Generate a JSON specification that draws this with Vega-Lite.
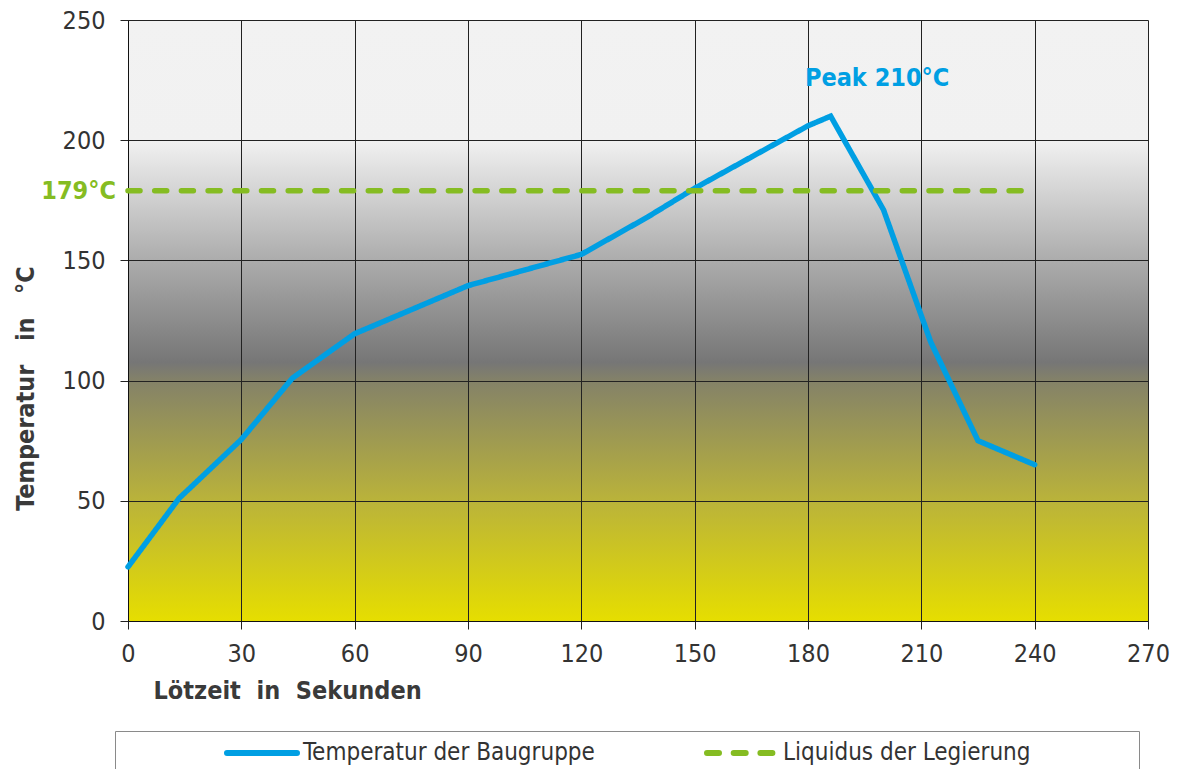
{
  "$schema": "https://vega.github.io/schema/vega-lite/v6.json",
  "autosize": {"type": "none"},
  "width": 1020,
  "height": 601,
  "padding": {"left": 128, "top": 20, "right": 29, "bottom": 148},
  "background": "#ffffff",
  "config": {
    "font": "DejaVu Sans Condensed, Roboto, sans-serif",
    "view": {
      "stroke": null,
      "fill": {
        "gradient": "linear", "x1": 0, "y1": 0, "x2": 0, "y2": 1,
        "stops": [
          {"offset": 0, "color": "#f2f2f2"},
          {"offset": 0.2, "color": "#f1f1f1"},
          {"offset": 0.4, "color": "#acacac"},
          {"offset": 0.57, "color": "#767676"},
          {"offset": 0.6, "color": "#848268"},
          {"offset": 0.8, "color": "#bab33a"},
          {"offset": 1, "color": "#e6de00"}
        ]
      }
    },
    "axis": {
      "labelFont": "DejaVu Sans Condensed, Roboto, sans-serif",
      "labelFontSize": 25,
      "labelColor": "#333333",
      "tickColor": "#222222",
      "tickSize": 8,
      "tickWidth": 1,
      "domainColor": "#111111",
      "domainWidth": 1,
      "gridColor": "#222222",
      "gridWidth": 1,
      "gridOpacity": 1,
      "titleFont": "DejaVu Sans Condensed, Roboto, sans-serif",
      "titleFontWeight": "bold",
      "titleFontSize": 25,
      "titleColor": "#3a3a3a"
    }
  },
  "datasets": {
    "lines": [
      {"series": "Temperatur der Baugruppe", "t": 0, "temp": 22.5},
      {"series": "Temperatur der Baugruppe", "t": 13.5, "temp": 51},
      {"series": "Temperatur der Baugruppe", "t": 30, "temp": 75.5},
      {"series": "Temperatur der Baugruppe", "t": 43.5, "temp": 101},
      {"series": "Temperatur der Baugruppe", "t": 60, "temp": 119.5},
      {"series": "Temperatur der Baugruppe", "t": 75, "temp": 129.5},
      {"series": "Temperatur der Baugruppe", "t": 90, "temp": 139.5},
      {"series": "Temperatur der Baugruppe", "t": 105, "temp": 146},
      {"series": "Temperatur der Baugruppe", "t": 120, "temp": 152.5},
      {"series": "Temperatur der Baugruppe", "t": 137.5, "temp": 168},
      {"series": "Temperatur der Baugruppe", "t": 150, "temp": 180},
      {"series": "Temperatur der Baugruppe", "t": 165, "temp": 193},
      {"series": "Temperatur der Baugruppe", "t": 180, "temp": 206},
      {"series": "Temperatur der Baugruppe", "t": 186, "temp": 210},
      {"series": "Temperatur der Baugruppe", "t": 200, "temp": 171},
      {"series": "Temperatur der Baugruppe", "t": 212.5, "temp": 116},
      {"series": "Temperatur der Baugruppe", "t": 225, "temp": 75},
      {"series": "Temperatur der Baugruppe", "t": 240, "temp": 65},
      {"series": "Liquidus der Legierung", "t": 0, "temp": 179},
      {"series": "Liquidus der Legierung", "t": 238, "temp": 179}
    ],
    "labels": [
      {"label": "179°C", "t": 0, "temp": 179, "kind": "liquidus"},
      {"label": "Peak 210°C", "t": 198.3, "temp": 226, "kind": "peak"}
    ]
  },
  "layer": [
    {
      "data": {"name": "lines"},
      "mark": {"type": "line", "strokeWidth": 5.5, "strokeCap": "round", "strokeJoin": "miter"},
      "encoding": {
        "x": {
          "field": "t", "type": "quantitative",
          "scale": {"domain": [0, 270], "nice": false},
          "axis": {
            "values": [0, 30, 60, 90, 120, 150, 180, 210, 240, 270],
            "title": "Lötzeit\u00a0\u00a0in\u00a0\u00a0Sekunden",
            "labelPadding": 12,
            "labelFlush": false,
            "titleAnchor": "start",
            "titleAlign": "left",
            "titleX": 25,
            "titleY": 69,
            "titleBaseline": "middle"
          }
        },
        "y": {
          "field": "temp", "type": "quantitative",
          "scale": {"domain": [0, 250], "nice": false},
          "axis": {
            "values": [0, 50, 100, 150, 200, 250],
            "title": "Temperatur\u00a0\u00a0\u00a0in\u00a0\u00a0\u00a0°C",
            "labelPadding": 15,
            "labelFlush": false,
            "titleX": -103,
            "titleY": 368,
            "titleAlign": "center",
            "titleBaseline": "middle",
            "titleAngle": -90
          }
        },
        "detail": {"field": "series"},
        "color": {
          "field": "series", "type": "nominal",
          "scale": {
            "domain": ["Temperatur der Baugruppe", "Liquidus der Legierung"],
            "range": ["#009fe3", "#85bc22"]
          },
          "legend": {
            "orient": "none",
            "legendX": -13,
            "legendY": 711,
            "direction": "horizontal",
            "title": "\u00a0",
            "titleOrient": "left",
            "titlePadding": 104,
            "strokeColor": "#8a8a8a",
            "padding": 5,
            "columnPadding": 100,
            "symbolType": "M-2.5,0H2.5",
            "symbolSize": 784,
            "symbolOffset": 21,
            "symbolStrokeWidth": 6,
            "labelFont": "DejaVu Sans Condensed, Roboto, sans-serif",
            "labelFontSize": 24,
            "labelColor": "#333333",
            "labelOffset": 24,
            "labelLimit": 800,
            "labelExpr": "datum.value == 'Liquidus der Legierung' ? datum.label + '\u00a0\u00a0\u00a0\u00a0\u00a0\u00a0\u00a0\u00a0\u00a0\u00a0\u00a0\u00a0\u00a0\u00a0\u00a0\u200b' : datum.label",
            "encode": {
              "symbols": {"update": {"strokeCap": {"value": "round"}}}
            }
          }
        },
        "strokeDash": {
          "field": "series", "type": "nominal",
          "scale": {
            "domain": ["Temperatur der Baugruppe", "Liquidus der Legierung"],
            "range": [[1, 0], [12, 14.7]]
          },
          "legend": null
        }
      }
    },
    {
      "data": {"name": "labels"},
      "transform": [{"filter": "datum.kind == 'liquidus'"}],
      "mark": {"type": "text", "align": "right", "baseline": "middle", "dx": -12, "fontSize": 25, "fontWeight": "bold", "font": "DejaVu Sans Condensed, Roboto, sans-serif", "color": "#85bc22"},
      "encoding": {
        "x": {"field": "t", "type": "quantitative"},
        "y": {"field": "temp", "type": "quantitative"},
        "text": {"field": "label"}
      }
    },
    {
      "data": {"name": "labels"},
      "transform": [{"filter": "datum.kind == 'peak'"}],
      "mark": {"type": "text", "align": "center", "baseline": "middle", "fontSize": 25, "fontWeight": "bold", "font": "DejaVu Sans Condensed, Roboto, sans-serif", "color": "#009fe3"},
      "encoding": {
        "x": {"field": "t", "type": "quantitative"},
        "y": {"field": "temp", "type": "quantitative"},
        "text": {"field": "label"}
      }
    }
  ]
}
